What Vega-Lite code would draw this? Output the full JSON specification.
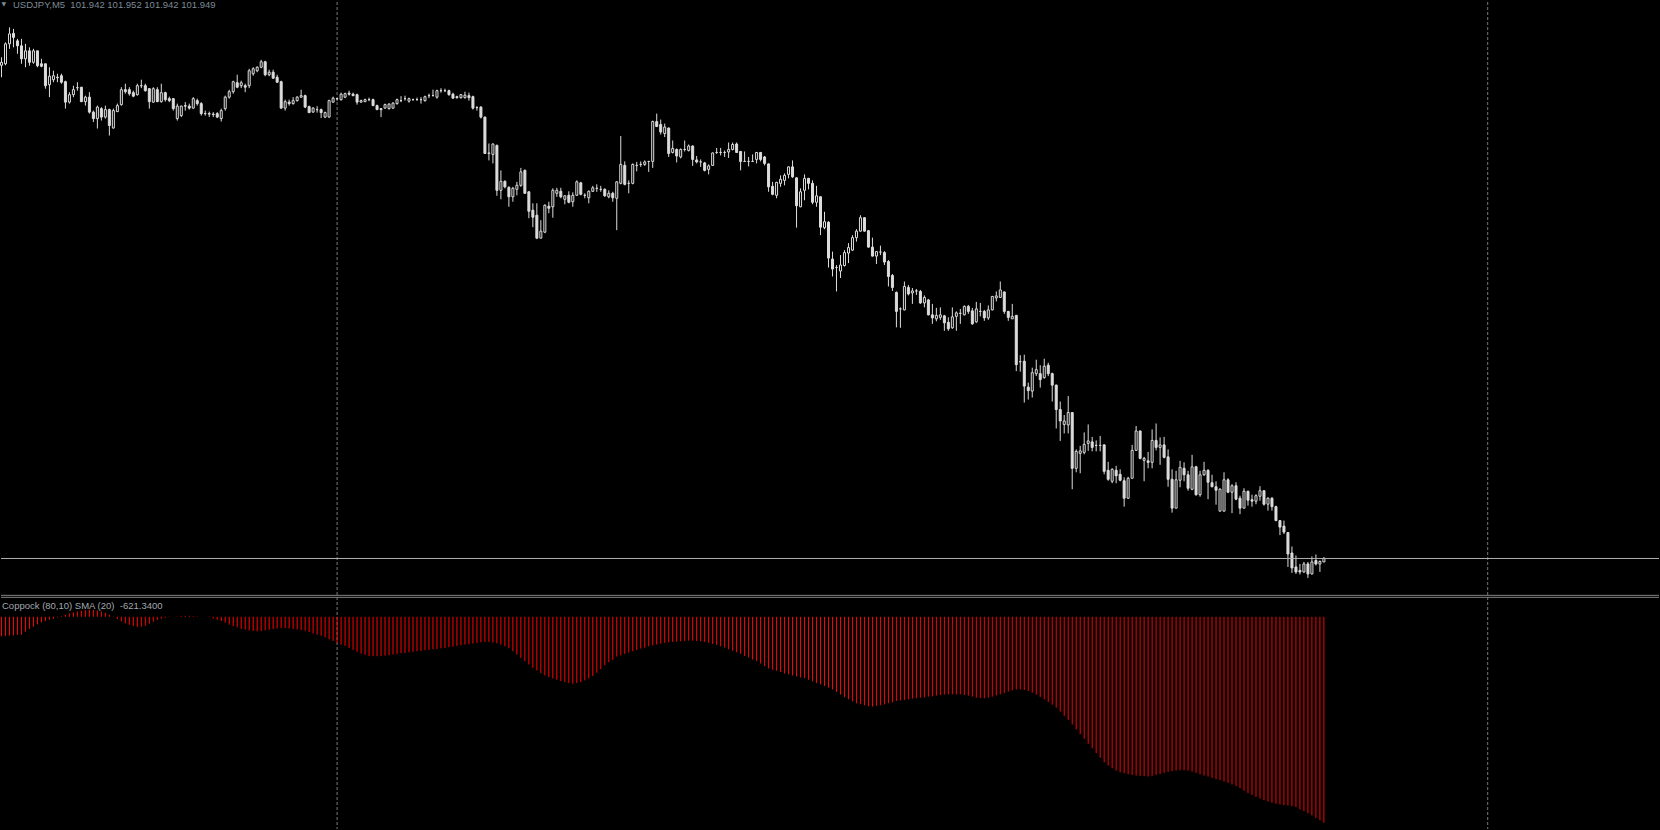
{
"$schema":"https://vega.github.io/schema/vega-lite/v6.json",
"width":1660,"height":830,
"autosize":{"type":"fit","contains":"padding"},
"padding":0,
"background":"#000000",
"config":{"view":{"stroke":null},"scale":{"continuousPadding":0}},
"datasets":{
"candles":[
{"i":0,"o":102.939,"h":102.955,"l":102.915,"c":102.945},
{"i":1,"o":102.942,"h":102.985,"l":102.939,"c":102.982},
{"i":2,"o":102.982,"h":103.015,"l":102.972,"c":103.002},
{"i":3,"o":103.003,"h":103.012,"l":102.975,"c":102.995},
{"i":4,"o":102.988,"h":102.992,"l":102.962,"c":102.978},
{"i":5,"o":102.978,"h":102.992,"l":102.942,"c":102.952},
{"i":6,"o":102.952,"h":102.982,"l":102.935,"c":102.968},
{"i":7,"o":102.968,"h":102.975,"l":102.938,"c":102.945},
{"i":8,"o":102.945,"h":102.972,"l":102.942,"c":102.968},
{"i":9,"o":102.968,"h":102.968,"l":102.935,"c":102.938},
{"i":10,"o":102.942,"h":102.952,"l":102.935,"c":102.937},
{"i":11,"o":102.942,"h":102.942,"l":102.892,"c":102.898},
{"i":12,"o":102.900,"h":102.935,"l":102.875,"c":102.917},
{"i":13,"o":102.910,"h":102.928,"l":102.905,"c":102.918},
{"i":14,"o":102.915,"h":102.922,"l":102.905,"c":102.914},
{"i":15,"o":102.918,"h":102.922,"l":102.902,"c":102.905},
{"i":16,"o":102.906,"h":102.908,"l":102.852,"c":102.865},
{"i":17,"o":102.865,"h":102.885,"l":102.862,"c":102.880},
{"i":18,"o":102.880,"h":102.898,"l":102.875,"c":102.890},
{"i":19,"o":102.894,"h":102.905,"l":102.888,"c":102.894},
{"i":20,"o":102.895,"h":102.895,"l":102.865,"c":102.866},
{"i":21,"o":102.866,"h":102.878,"l":102.858,"c":102.875},
{"i":22,"o":102.875,"h":102.885,"l":102.842,"c":102.845},
{"i":23,"o":102.845,"h":102.848,"l":102.825,"c":102.832},
{"i":24,"o":102.832,"h":102.858,"l":102.812,"c":102.855},
{"i":25,"o":102.852,"h":102.855,"l":102.828,"c":102.835},
{"i":26,"o":102.835,"h":102.858,"l":102.832,"c":102.850},
{"i":27,"o":102.850,"h":102.852,"l":102.798,"c":102.818},
{"i":28,"o":102.813,"h":102.852,"l":102.812,"c":102.848},
{"i":29,"o":102.846,"h":102.862,"l":102.845,"c":102.858},
{"i":30,"o":102.860,"h":102.895,"l":102.858,"c":102.890},
{"i":31,"o":102.890,"h":102.902,"l":102.882,"c":102.886},
{"i":32,"o":102.890,"h":102.895,"l":102.878,"c":102.882},
{"i":33,"o":102.884,"h":102.888,"l":102.875,"c":102.877},
{"i":34,"o":102.880,"h":102.902,"l":102.878,"c":102.898},
{"i":35,"o":102.898,"h":102.910,"l":102.893,"c":102.898},
{"i":36,"o":102.898,"h":102.902,"l":102.886,"c":102.888},
{"i":37,"o":102.892,"h":102.893,"l":102.852,"c":102.866},
{"i":38,"o":102.865,"h":102.895,"l":102.864,"c":102.892},
{"i":39,"o":102.890,"h":102.895,"l":102.865,"c":102.866},
{"i":40,"o":102.866,"h":102.902,"l":102.864,"c":102.884},
{"i":41,"o":102.884,"h":102.886,"l":102.866,"c":102.870},
{"i":42,"o":102.872,"h":102.876,"l":102.865,"c":102.868},
{"i":43,"o":102.872,"h":102.873,"l":102.848,"c":102.852},
{"i":44,"o":102.832,"h":102.862,"l":102.828,"c":102.857},
{"i":45,"o":102.838,"h":102.858,"l":102.835,"c":102.857},
{"i":46,"o":102.858,"h":102.865,"l":102.848,"c":102.857},
{"i":47,"o":102.857,"h":102.862,"l":102.850,"c":102.853},
{"i":48,"o":102.853,"h":102.875,"l":102.852,"c":102.872},
{"i":49,"o":102.868,"h":102.872,"l":102.858,"c":102.862},
{"i":50,"o":102.862,"h":102.865,"l":102.838,"c":102.842},
{"i":51,"o":102.842,"h":102.848,"l":102.838,"c":102.842},
{"i":52,"o":102.842,"h":102.846,"l":102.835,"c":102.841},
{"i":53,"o":102.841,"h":102.845,"l":102.835,"c":102.840},
{"i":54,"o":102.842,"h":102.845,"l":102.833,"c":102.835},
{"i":55,"o":102.832,"h":102.852,"l":102.826,"c":102.848},
{"i":56,"o":102.852,"h":102.878,"l":102.848,"c":102.875},
{"i":57,"o":102.875,"h":102.890,"l":102.872,"c":102.886},
{"i":58,"o":102.886,"h":102.908,"l":102.882,"c":102.906},
{"i":59,"o":102.904,"h":102.920,"l":102.893,"c":102.895},
{"i":60,"o":102.898,"h":102.908,"l":102.893,"c":102.904},
{"i":61,"o":102.898,"h":102.902,"l":102.885,"c":102.895},
{"i":62,"o":102.898,"h":102.932,"l":102.893,"c":102.928},
{"i":63,"o":102.922,"h":102.935,"l":102.918,"c":102.932},
{"i":64,"o":102.928,"h":102.937,"l":102.925,"c":102.935},
{"i":65,"o":102.935,"h":102.950,"l":102.933,"c":102.946},
{"i":66,"o":102.946,"h":102.948,"l":102.917,"c":102.920},
{"i":67,"o":102.920,"h":102.930,"l":102.917,"c":102.925},
{"i":68,"o":102.925,"h":102.930,"l":102.912,"c":102.913},
{"i":69,"o":102.915,"h":102.920,"l":102.904,"c":102.905},
{"i":70,"o":102.906,"h":102.908,"l":102.852,"c":102.853},
{"i":71,"o":102.853,"h":102.870,"l":102.848,"c":102.866},
{"i":72,"o":102.865,"h":102.870,"l":102.858,"c":102.862},
{"i":73,"o":102.862,"h":102.875,"l":102.860,"c":102.868},
{"i":74,"o":102.868,"h":102.877,"l":102.866,"c":102.875},
{"i":75,"o":102.875,"h":102.890,"l":102.874,"c":102.878},
{"i":76,"o":102.878,"h":102.880,"l":102.853,"c":102.855},
{"i":77,"o":102.856,"h":102.858,"l":102.843,"c":102.844},
{"i":78,"o":102.845,"h":102.855,"l":102.844,"c":102.853},
{"i":79,"o":102.850,"h":102.857,"l":102.844,"c":102.850},
{"i":80,"o":102.850,"h":102.852,"l":102.833,"c":102.844},
{"i":81,"o":102.835,"h":102.846,"l":102.833,"c":102.844},
{"i":82,"o":102.835,"h":102.870,"l":102.834,"c":102.868},
{"i":83,"o":102.865,"h":102.876,"l":102.864,"c":102.873},
{"i":84,"o":102.872,"h":102.873,"l":102.868,"c":102.872},
{"i":85,"o":102.870,"h":102.884,"l":102.868,"c":102.881},
{"i":86,"o":102.875,"h":102.884,"l":102.873,"c":102.882},
{"i":87,"o":102.883,"h":102.888,"l":102.878,"c":102.881},
{"i":88,"o":102.881,"h":102.884,"l":102.877,"c":102.878},
{"i":89,"o":102.880,"h":102.882,"l":102.860,"c":102.865},
{"i":90,"o":102.865,"h":102.870,"l":102.864,"c":102.868},
{"i":91,"o":102.866,"h":102.872,"l":102.865,"c":102.870},
{"i":92,"o":102.870,"h":102.874,"l":102.867,"c":102.870},
{"i":93,"o":102.870,"h":102.872,"l":102.857,"c":102.858},
{"i":94,"o":102.858,"h":102.860,"l":102.849,"c":102.850},
{"i":95,"o":102.852,"h":102.853,"l":102.835,"c":102.850},
{"i":96,"o":102.853,"h":102.862,"l":102.852,"c":102.860},
{"i":97,"o":102.852,"h":102.863,"l":102.850,"c":102.861},
{"i":98,"o":102.853,"h":102.865,"l":102.852,"c":102.863},
{"i":99,"o":102.862,"h":102.872,"l":102.860,"c":102.870},
{"i":100,"o":102.868,"h":102.877,"l":102.865,"c":102.868},
{"i":101,"o":102.872,"h":102.878,"l":102.868,"c":102.872},
{"i":102,"o":102.867,"h":102.874,"l":102.864,"c":102.872},
{"i":103,"o":102.870,"h":102.872,"l":102.868,"c":102.870},
{"i":104,"o":102.870,"h":102.874,"l":102.868,"c":102.870},
{"i":105,"o":102.870,"h":102.875,"l":102.862,"c":102.870},
{"i":106,"o":102.868,"h":102.878,"l":102.866,"c":102.876},
{"i":107,"o":102.878,"h":102.882,"l":102.873,"c":102.878},
{"i":108,"o":102.878,"h":102.890,"l":102.877,"c":102.878},
{"i":109,"o":102.875,"h":102.890,"l":102.872,"c":102.888},
{"i":110,"o":102.888,"h":102.893,"l":102.884,"c":102.888},
{"i":111,"o":102.888,"h":102.892,"l":102.885,"c":102.888},
{"i":112,"o":102.888,"h":102.890,"l":102.878,"c":102.880},
{"i":113,"o":102.881,"h":102.884,"l":102.872,"c":102.873},
{"i":114,"o":102.876,"h":102.878,"l":102.872,"c":102.874},
{"i":115,"o":102.874,"h":102.881,"l":102.872,"c":102.880},
{"i":116,"o":102.874,"h":102.886,"l":102.872,"c":102.879},
{"i":117,"o":102.878,"h":102.884,"l":102.868,"c":102.874},
{"i":118,"o":102.876,"h":102.878,"l":102.850,"c":102.853},
{"i":119,"o":102.854,"h":102.857,"l":102.848,"c":102.854},
{"i":120,"o":102.855,"h":102.857,"l":102.832,"c":102.835},
{"i":121,"o":102.835,"h":102.836,"l":102.761,"c":102.762},
{"i":122,"o":102.762,"h":102.782,"l":102.748,"c":102.763},
{"i":123,"o":102.760,"h":102.782,"l":102.742,"c":102.781},
{"i":124,"o":102.778,"h":102.780,"l":102.677,"c":102.688},
{"i":125,"o":102.688,"h":102.728,"l":102.670,"c":102.706},
{"i":126,"o":102.706,"h":102.708,"l":102.692,"c":102.695},
{"i":127,"o":102.694,"h":102.696,"l":102.655,"c":102.675},
{"i":128,"o":102.675,"h":102.695,"l":102.665,"c":102.692},
{"i":129,"o":102.690,"h":102.705,"l":102.678,"c":102.698},
{"i":130,"o":102.698,"h":102.733,"l":102.695,"c":102.725},
{"i":131,"o":102.728,"h":102.730,"l":102.681,"c":102.682},
{"i":132,"o":102.685,"h":102.686,"l":102.632,"c":102.646},
{"i":133,"o":102.648,"h":102.662,"l":102.614,"c":102.634},
{"i":134,"o":102.638,"h":102.662,"l":102.590,"c":102.592},
{"i":135,"o":102.592,"h":102.628,"l":102.592,"c":102.606},
{"i":136,"o":102.604,"h":102.660,"l":102.602,"c":102.658},
{"i":137,"o":102.656,"h":102.665,"l":102.642,"c":102.652},
{"i":138,"o":102.655,"h":102.692,"l":102.633,"c":102.688},
{"i":139,"o":102.682,"h":102.693,"l":102.675,"c":102.688},
{"i":140,"o":102.686,"h":102.693,"l":102.672,"c":102.675},
{"i":141,"o":102.670,"h":102.678,"l":102.660,"c":102.677},
{"i":142,"o":102.678,"h":102.686,"l":102.662,"c":102.664},
{"i":143,"o":102.665,"h":102.684,"l":102.655,"c":102.678},
{"i":144,"o":102.678,"h":102.708,"l":102.677,"c":102.705},
{"i":145,"o":102.703,"h":102.705,"l":102.678,"c":102.680},
{"i":146,"o":102.678,"h":102.682,"l":102.672,"c":102.678},
{"i":147,"o":102.673,"h":102.688,"l":102.662,"c":102.686},
{"i":148,"o":102.686,"h":102.697,"l":102.685,"c":102.693},
{"i":149,"o":102.692,"h":102.700,"l":102.685,"c":102.692},
{"i":150,"o":102.690,"h":102.697,"l":102.685,"c":102.690},
{"i":151,"o":102.690,"h":102.692,"l":102.675,"c":102.677},
{"i":152,"o":102.675,"h":102.688,"l":102.672,"c":102.682},
{"i":153,"o":102.682,"h":102.685,"l":102.665,"c":102.673},
{"i":154,"o":102.672,"h":102.706,"l":102.608,"c":102.705},
{"i":155,"o":102.702,"h":102.797,"l":102.700,"c":102.740},
{"i":156,"o":102.738,"h":102.746,"l":102.698,"c":102.700},
{"i":157,"o":102.702,"h":102.708,"l":102.682,"c":102.702},
{"i":158,"o":102.702,"h":102.742,"l":102.700,"c":102.740},
{"i":159,"o":102.738,"h":102.745,"l":102.726,"c":102.738},
{"i":160,"o":102.740,"h":102.746,"l":102.735,"c":102.740},
{"i":161,"o":102.740,"h":102.748,"l":102.737,"c":102.745},
{"i":162,"o":102.746,"h":102.747,"l":102.725,"c":102.746},
{"i":163,"o":102.746,"h":102.828,"l":102.733,"c":102.826},
{"i":164,"o":102.826,"h":102.842,"l":102.815,"c":102.816},
{"i":165,"o":102.820,"h":102.830,"l":102.800,"c":102.805},
{"i":166,"o":102.802,"h":102.822,"l":102.795,"c":102.815},
{"i":167,"o":102.813,"h":102.814,"l":102.755,"c":102.762},
{"i":168,"o":102.764,"h":102.788,"l":102.762,"c":102.772},
{"i":169,"o":102.770,"h":102.772,"l":102.744,"c":102.757},
{"i":170,"o":102.755,"h":102.772,"l":102.752,"c":102.770},
{"i":171,"o":102.770,"h":102.788,"l":102.766,"c":102.770},
{"i":172,"o":102.768,"h":102.780,"l":102.766,"c":102.777},
{"i":173,"o":102.777,"h":102.778,"l":102.737,"c":102.750},
{"i":174,"o":102.749,"h":102.757,"l":102.742,"c":102.745},
{"i":175,"o":102.745,"h":102.750,"l":102.735,"c":102.745},
{"i":176,"o":102.743,"h":102.745,"l":102.726,"c":102.728},
{"i":177,"o":102.730,"h":102.740,"l":102.720,"c":102.737},
{"i":178,"o":102.738,"h":102.764,"l":102.737,"c":102.763},
{"i":179,"o":102.764,"h":102.773,"l":102.761,"c":102.764},
{"i":180,"o":102.764,"h":102.773,"l":102.758,"c":102.764},
{"i":181,"o":102.764,"h":102.768,"l":102.755,"c":102.764},
{"i":182,"o":102.765,"h":102.784,"l":102.753,"c":102.770},
{"i":183,"o":102.770,"h":102.784,"l":102.768,"c":102.780},
{"i":184,"o":102.781,"h":102.784,"l":102.763,"c":102.764},
{"i":185,"o":102.766,"h":102.767,"l":102.728,"c":102.746},
{"i":186,"o":102.746,"h":102.766,"l":102.745,"c":102.746},
{"i":187,"o":102.746,"h":102.755,"l":102.736,"c":102.746},
{"i":188,"o":102.746,"h":102.760,"l":102.745,"c":102.746},
{"i":189,"o":102.750,"h":102.765,"l":102.742,"c":102.764},
{"i":190,"o":102.764,"h":102.765,"l":102.746,"c":102.750},
{"i":191,"o":102.755,"h":102.757,"l":102.738,"c":102.742},
{"i":192,"o":102.741,"h":102.742,"l":102.685,"c":102.695},
{"i":193,"o":102.696,"h":102.705,"l":102.678,"c":102.680},
{"i":194,"o":102.678,"h":102.705,"l":102.672,"c":102.704},
{"i":195,"o":102.702,"h":102.718,"l":102.695,"c":102.710},
{"i":196,"o":102.708,"h":102.722,"l":102.698,"c":102.718},
{"i":197,"o":102.720,"h":102.736,"l":102.712,"c":102.735},
{"i":198,"o":102.735,"h":102.748,"l":102.713,"c":102.715},
{"i":199,"o":102.713,"h":102.714,"l":102.613,"c":102.657},
{"i":200,"o":102.655,"h":102.692,"l":102.654,"c":102.685},
{"i":201,"o":102.688,"h":102.720,"l":102.668,"c":102.712},
{"i":202,"o":102.712,"h":102.713,"l":102.690,"c":102.702},
{"i":203,"o":102.702,"h":102.708,"l":102.660,"c":102.664},
{"i":204,"o":102.664,"h":102.697,"l":102.655,"c":102.677},
{"i":205,"o":102.675,"h":102.676,"l":102.598,"c":102.614},
{"i":206,"o":102.613,"h":102.645,"l":102.610,"c":102.625},
{"i":207,"o":102.624,"h":102.626,"l":102.533,"c":102.552},
{"i":208,"o":102.550,"h":102.565,"l":102.515,"c":102.530},
{"i":209,"o":102.533,"h":102.538,"l":102.485,"c":102.533},
{"i":210,"o":102.526,"h":102.558,"l":102.512,"c":102.538},
{"i":211,"o":102.537,"h":102.568,"l":102.535,"c":102.563},
{"i":212,"o":102.562,"h":102.582,"l":102.542,"c":102.573},
{"i":213,"o":102.568,"h":102.598,"l":102.566,"c":102.593},
{"i":214,"o":102.593,"h":102.610,"l":102.585,"c":102.606},
{"i":215,"o":102.606,"h":102.638,"l":102.605,"c":102.633},
{"i":216,"o":102.633,"h":102.634,"l":102.605,"c":102.606},
{"i":217,"o":102.607,"h":102.608,"l":102.573,"c":102.574},
{"i":218,"o":102.574,"h":102.593,"l":102.555,"c":102.556},
{"i":219,"o":102.556,"h":102.566,"l":102.540,"c":102.565},
{"i":220,"o":102.564,"h":102.577,"l":102.558,"c":102.564},
{"i":221,"o":102.563,"h":102.566,"l":102.538,"c":102.544},
{"i":222,"o":102.545,"h":102.548,"l":102.495,"c":102.515},
{"i":223,"o":102.517,"h":102.520,"l":102.486,"c":102.493},
{"i":224,"o":102.483,"h":102.485,"l":102.413,"c":102.445},
{"i":225,"o":102.450,"h":102.453,"l":102.412,"c":102.450},
{"i":226,"o":102.448,"h":102.505,"l":102.447,"c":102.495},
{"i":227,"o":102.493,"h":102.498,"l":102.477,"c":102.480},
{"i":228,"o":102.482,"h":102.492,"l":102.460,"c":102.486},
{"i":229,"o":102.486,"h":102.490,"l":102.478,"c":102.486},
{"i":230,"o":102.485,"h":102.488,"l":102.460,"c":102.462},
{"i":231,"o":102.462,"h":102.477,"l":102.453,"c":102.473},
{"i":232,"o":102.468,"h":102.470,"l":102.437,"c":102.438},
{"i":233,"o":102.438,"h":102.460,"l":102.420,"c":102.432},
{"i":234,"o":102.430,"h":102.452,"l":102.425,"c":102.437},
{"i":235,"o":102.433,"h":102.453,"l":102.428,"c":102.438},
{"i":236,"o":102.436,"h":102.438,"l":102.406,"c":102.422},
{"i":237,"o":102.423,"h":102.433,"l":102.406,"c":102.410},
{"i":238,"o":102.412,"h":102.453,"l":102.410,"c":102.434},
{"i":239,"o":102.435,"h":102.445,"l":102.406,"c":102.442},
{"i":240,"o":102.441,"h":102.450,"l":102.420,"c":102.441},
{"i":241,"o":102.438,"h":102.457,"l":102.437,"c":102.455},
{"i":242,"o":102.455,"h":102.458,"l":102.440,"c":102.445},
{"i":243,"o":102.446,"h":102.452,"l":102.418,"c":102.420},
{"i":244,"o":102.424,"h":102.464,"l":102.422,"c":102.450},
{"i":245,"o":102.445,"h":102.462,"l":102.435,"c":102.445},
{"i":246,"o":102.445,"h":102.448,"l":102.426,"c":102.432},
{"i":247,"o":102.432,"h":102.457,"l":102.428,"c":102.448},
{"i":248,"o":102.448,"h":102.476,"l":102.447,"c":102.475},
{"i":249,"o":102.472,"h":102.485,"l":102.465,"c":102.476},
{"i":250,"o":102.473,"h":102.505,"l":102.472,"c":102.488},
{"i":251,"o":102.484,"h":102.485,"l":102.440,"c":102.445},
{"i":252,"o":102.445,"h":102.446,"l":102.426,"c":102.433},
{"i":253,"o":102.430,"h":102.460,"l":102.430,"c":102.435},
{"i":254,"o":102.437,"h":102.438,"l":102.325,"c":102.338},
{"i":255,"o":102.344,"h":102.357,"l":102.324,"c":102.344},
{"i":256,"o":102.345,"h":102.358,"l":102.262,"c":102.295},
{"i":257,"o":102.293,"h":102.302,"l":102.268,"c":102.286},
{"i":258,"o":102.285,"h":102.332,"l":102.272,"c":102.322},
{"i":259,"o":102.320,"h":102.348,"l":102.315,"c":102.328},
{"i":260,"o":102.320,"h":102.337,"l":102.292,"c":102.308},
{"i":261,"o":102.312,"h":102.350,"l":102.310,"c":102.335},
{"i":262,"o":102.337,"h":102.342,"l":102.315,"c":102.320},
{"i":263,"o":102.320,"h":102.322,"l":102.264,"c":102.297},
{"i":264,"o":102.297,"h":102.298,"l":102.210,"c":102.248},
{"i":265,"o":102.248,"h":102.264,"l":102.185,"c":102.225},
{"i":266,"o":102.218,"h":102.237,"l":102.200,"c":102.225},
{"i":267,"o":102.217,"h":102.275,"l":102.200,"c":102.242},
{"i":268,"o":102.242,"h":102.243,"l":102.088,"c":102.130},
{"i":269,"o":102.130,"h":102.168,"l":102.122,"c":102.164},
{"i":270,"o":102.160,"h":102.175,"l":102.120,"c":102.165},
{"i":271,"o":102.162,"h":102.202,"l":102.158,"c":102.178},
{"i":272,"o":102.180,"h":102.218,"l":102.165,"c":102.185},
{"i":273,"o":102.183,"h":102.193,"l":102.164,"c":102.172},
{"i":274,"o":102.176,"h":102.186,"l":102.164,"c":102.176},
{"i":275,"o":102.176,"h":102.195,"l":102.164,"c":102.176},
{"i":276,"o":102.177,"h":102.178,"l":102.118,"c":102.124},
{"i":277,"o":102.126,"h":102.143,"l":102.105,"c":102.108},
{"i":278,"o":102.104,"h":102.130,"l":102.100,"c":102.128},
{"i":279,"o":102.126,"h":102.135,"l":102.100,"c":102.115},
{"i":280,"o":102.118,"h":102.128,"l":102.104,"c":102.106},
{"i":281,"o":102.105,"h":102.112,"l":102.053,"c":102.070},
{"i":282,"o":102.070,"h":102.113,"l":102.069,"c":102.110},
{"i":283,"o":102.110,"h":102.177,"l":102.110,"c":102.166},
{"i":284,"o":102.166,"h":102.215,"l":102.165,"c":102.205},
{"i":285,"o":102.205,"h":102.205,"l":102.148,"c":102.150},
{"i":286,"o":102.146,"h":102.153,"l":102.104,"c":102.150},
{"i":287,"o":102.145,"h":102.163,"l":102.130,"c":102.142},
{"i":288,"o":102.142,"h":102.208,"l":102.130,"c":102.186},
{"i":289,"o":102.186,"h":102.220,"l":102.166,"c":102.172},
{"i":290,"o":102.172,"h":102.192,"l":102.137,"c":102.177},
{"i":291,"o":102.177,"h":102.193,"l":102.150,"c":102.152},
{"i":292,"o":102.153,"h":102.168,"l":102.093,"c":102.108},
{"i":293,"o":102.108,"h":102.128,"l":102.041,"c":102.050},
{"i":294,"o":102.050,"h":102.125,"l":102.050,"c":102.107},
{"i":295,"o":102.106,"h":102.145,"l":102.092,"c":102.132},
{"i":296,"o":102.130,"h":102.142,"l":102.104,"c":102.117},
{"i":297,"o":102.117,"h":102.125,"l":102.085,"c":102.090},
{"i":298,"o":102.088,"h":102.157,"l":102.086,"c":102.133},
{"i":299,"o":102.133,"h":102.135,"l":102.075,"c":102.077},
{"i":300,"o":102.077,"h":102.125,"l":102.073,"c":102.117},
{"i":301,"o":102.117,"h":102.143,"l":102.115,"c":102.126},
{"i":302,"o":102.126,"h":102.128,"l":102.068,"c":102.102},
{"i":303,"o":102.101,"h":102.117,"l":102.092,"c":102.093},
{"i":304,"o":102.093,"h":102.104,"l":102.057,"c":102.086},
{"i":305,"o":102.044,"h":102.090,"l":102.044,"c":102.088},
{"i":306,"o":102.044,"h":102.122,"l":102.044,"c":102.107},
{"i":307,"o":102.107,"h":102.110,"l":102.080,"c":102.082},
{"i":308,"o":102.082,"h":102.098,"l":102.040,"c":102.095},
{"i":309,"o":102.095,"h":102.102,"l":102.066,"c":102.068},
{"i":310,"o":102.070,"h":102.075,"l":102.038,"c":102.050},
{"i":311,"o":102.050,"h":102.090,"l":102.050,"c":102.084},
{"i":312,"o":102.084,"h":102.085,"l":102.055,"c":102.066},
{"i":313,"o":102.067,"h":102.077,"l":102.053,"c":102.064},
{"i":314,"o":102.064,"h":102.078,"l":102.058,"c":102.075},
{"i":315,"o":102.074,"h":102.094,"l":102.065,"c":102.085},
{"i":316,"o":102.085,"h":102.086,"l":102.055,"c":102.058},
{"i":317,"o":102.058,"h":102.072,"l":102.045,"c":102.070},
{"i":318,"o":102.070,"h":102.072,"l":102.045,"c":102.053},
{"i":319,"o":102.053,"h":102.055,"l":102.024,"c":102.025},
{"i":320,"o":102.025,"h":102.026,"l":101.996,"c":102.012},
{"i":321,"o":102.014,"h":102.025,"l":101.998,"c":102.002},
{"i":322,"o":102.001,"h":102.002,"l":101.932,"c":101.958},
{"i":323,"o":101.960,"h":101.973,"l":101.920,"c":101.930},
{"i":324,"o":101.932,"h":101.955,"l":101.918,"c":101.922},
{"i":325,"o":101.925,"h":101.938,"l":101.917,"c":101.922},
{"i":326,"o":101.922,"h":101.942,"l":101.920,"c":101.938},
{"i":327,"o":101.938,"h":101.942,"l":101.910,"c":101.918},
{"i":328,"o":101.918,"h":101.953,"l":101.917,"c":101.942},
{"i":329,"o":101.945,"h":101.957,"l":101.935,"c":101.938},
{"i":330,"o":101.938,"h":101.945,"l":101.922,"c":101.943},
{"i":331,"o":101.942,"h":101.952,"l":101.942,"c":101.949}
],
"coppock":[
{"i":0,"v":-59},{"i":1,"v":-58},{"i":2,"v":-57},{"i":3,"v":-56},{"i":4,"v":-55},{"i":5,"v":-54},{"i":6,"v":-45},{"i":7,"v":-37},{"i":8,"v":-30},{"i":9,"v":-23},
{"i":10,"v":-17},{"i":11,"v":-13},{"i":12,"v":-9},{"i":13,"v":-6},{"i":14,"v":-2},{"i":15,"v":2},{"i":16,"v":6},{"i":17,"v":10},{"i":18,"v":13},{"i":19,"v":16},
{"i":20,"v":18},{"i":21,"v":20},{"i":22,"v":21},{"i":23,"v":21},{"i":24,"v":19},{"i":25,"v":16},{"i":26,"v":12},{"i":27,"v":6},{"i":28,"v":-1},{"i":29,"v":-7},
{"i":30,"v":-14},{"i":31,"v":-20},{"i":32,"v":-24},{"i":33,"v":-28},{"i":34,"v":-31},{"i":35,"v":-30},{"i":36,"v":-27},{"i":37,"v":-21},{"i":38,"v":-15},{"i":39,"v":-10},
{"i":40,"v":-6},{"i":41,"v":-3},{"i":42,"v":-1},{"i":43,"v":0},{"i":44,"v":1},{"i":45,"v":2},{"i":46,"v":3},{"i":47,"v":3},{"i":48,"v":2},{"i":49,"v":1},
{"i":50,"v":0},{"i":51,"v":0},{"i":52,"v":-1},{"i":53,"v":-5},{"i":54,"v":-9},{"i":55,"v":-13},{"i":56,"v":-18},{"i":57,"v":-24},{"i":58,"v":-28},{"i":59,"v":-32},
{"i":60,"v":-36},{"i":61,"v":-39},{"i":62,"v":-41},{"i":63,"v":-43},{"i":64,"v":-44},{"i":65,"v":-43},{"i":66,"v":-41},{"i":67,"v":-39},{"i":68,"v":-37},{"i":69,"v":-35},
{"i":70,"v":-34},{"i":71,"v":-34},{"i":72,"v":-35},{"i":73,"v":-37},{"i":74,"v":-38},{"i":75,"v":-40},{"i":76,"v":-42},{"i":77,"v":-46},{"i":78,"v":-50},{"i":79,"v":-54},
{"i":80,"v":-57},{"i":81,"v":-62},{"i":82,"v":-68},{"i":83,"v":-73},{"i":84,"v":-79},{"i":85,"v":-84},{"i":86,"v":-88},{"i":87,"v":-94},{"i":88,"v":-100},{"i":89,"v":-106},
{"i":90,"v":-111},{"i":91,"v":-115},{"i":92,"v":-118},{"i":93,"v":-119},{"i":94,"v":-119},{"i":95,"v":-118},{"i":96,"v":-117},{"i":97,"v":-116},{"i":98,"v":-114},{"i":99,"v":-112},
{"i":100,"v":-110},{"i":101,"v":-109},{"i":102,"v":-107},{"i":103,"v":-106},{"i":104,"v":-104},{"i":105,"v":-103},{"i":106,"v":-101},{"i":107,"v":-100},{"i":108,"v":-98},{"i":109,"v":-97},
{"i":110,"v":-95},{"i":111,"v":-94},{"i":112,"v":-92},{"i":113,"v":-90},{"i":114,"v":-88},{"i":115,"v":-86},{"i":116,"v":-84},{"i":117,"v":-83},{"i":118,"v":-81},{"i":119,"v":-79},
{"i":120,"v":-77},{"i":121,"v":-76},{"i":122,"v":-76},{"i":123,"v":-78},{"i":124,"v":-80},{"i":125,"v":-84},{"i":126,"v":-89},{"i":127,"v":-95},{"i":128,"v":-104},{"i":129,"v":-114},
{"i":130,"v":-124},{"i":131,"v":-134},{"i":132,"v":-144},{"i":133,"v":-154},{"i":134,"v":-162},{"i":135,"v":-170},{"i":136,"v":-177},{"i":137,"v":-182},{"i":138,"v":-186},{"i":139,"v":-190},
{"i":140,"v":-194},{"i":141,"v":-197},{"i":142,"v":-200},{"i":143,"v":-202},{"i":144,"v":-200},{"i":145,"v":-197},{"i":146,"v":-192},{"i":147,"v":-186},{"i":148,"v":-179},{"i":149,"v":-169},
{"i":150,"v":-158},{"i":151,"v":-146},{"i":152,"v":-137},{"i":153,"v":-130},{"i":154,"v":-120},{"i":155,"v":-116},{"i":156,"v":-112},{"i":157,"v":-108},{"i":158,"v":-104},{"i":159,"v":-100},
{"i":160,"v":-96},{"i":161,"v":-93},{"i":162,"v":-89},{"i":163,"v":-86},{"i":164,"v":-84},{"i":165,"v":-81},{"i":166,"v":-79},{"i":167,"v":-77},{"i":168,"v":-76},{"i":169,"v":-75},
{"i":170,"v":-74},{"i":171,"v":-73},{"i":172,"v":-72},{"i":173,"v":-72},{"i":174,"v":-73},{"i":175,"v":-74},{"i":176,"v":-76},{"i":177,"v":-79},{"i":178,"v":-82},{"i":179,"v":-85},
{"i":180,"v":-89},{"i":181,"v":-93},{"i":182,"v":-98},{"i":183,"v":-103},{"i":184,"v":-107},{"i":185,"v":-112},{"i":186,"v":-118},{"i":187,"v":-123},{"i":188,"v":-129},{"i":189,"v":-134},
{"i":190,"v":-141},{"i":191,"v":-149},{"i":192,"v":-156},{"i":193,"v":-160},{"i":194,"v":-163},{"i":195,"v":-167},{"i":196,"v":-171},{"i":197,"v":-174},{"i":198,"v":-177},{"i":199,"v":-180},
{"i":200,"v":-183},{"i":201,"v":-185},{"i":202,"v":-190},{"i":203,"v":-195},{"i":204,"v":-200},{"i":205,"v":-204},{"i":206,"v":-209},{"i":207,"v":-214},{"i":208,"v":-219},{"i":209,"v":-227},
{"i":210,"v":-235},{"i":211,"v":-243},{"i":212,"v":-249},{"i":213,"v":-255},{"i":214,"v":-261},{"i":215,"v":-264},{"i":216,"v":-267},{"i":217,"v":-270},{"i":218,"v":-271},{"i":219,"v":-269},
{"i":220,"v":-267},{"i":221,"v":-264},{"i":222,"v":-261},{"i":223,"v":-258},{"i":224,"v":-254},{"i":225,"v":-252},{"i":226,"v":-251},{"i":227,"v":-249},{"i":228,"v":-247},{"i":229,"v":-246},
{"i":230,"v":-244},{"i":231,"v":-243},{"i":232,"v":-241},{"i":233,"v":-240},{"i":234,"v":-238},{"i":235,"v":-236},{"i":236,"v":-235},{"i":237,"v":-234},{"i":238,"v":-234},{"i":239,"v":-234},
{"i":240,"v":-234},{"i":241,"v":-236},{"i":242,"v":-238},{"i":243,"v":-241},{"i":244,"v":-244},{"i":245,"v":-245},{"i":246,"v":-246},{"i":247,"v":-244},{"i":248,"v":-241},{"i":249,"v":-237},
{"i":250,"v":-234},{"i":251,"v":-230},{"i":252,"v":-226},{"i":253,"v":-222},{"i":254,"v":-219},{"i":255,"v":-219},{"i":256,"v":-221},{"i":257,"v":-224},{"i":258,"v":-229},{"i":259,"v":-235},
{"i":260,"v":-242},{"i":261,"v":-249},{"i":262,"v":-257},{"i":263,"v":-265},{"i":264,"v":-274},{"i":265,"v":-286},{"i":266,"v":-299},{"i":267,"v":-311},{"i":268,"v":-325},{"i":269,"v":-340},
{"i":270,"v":-354},{"i":271,"v":-368},{"i":272,"v":-383},{"i":273,"v":-397},{"i":274,"v":-411},{"i":275,"v":-425},{"i":276,"v":-439},{"i":277,"v":-449},{"i":278,"v":-457},{"i":279,"v":-464},
{"i":280,"v":-469},{"i":281,"v":-472},{"i":282,"v":-475},{"i":283,"v":-477},{"i":284,"v":-479},{"i":285,"v":-480},{"i":286,"v":-481},{"i":287,"v":-482},{"i":288,"v":-480},{"i":289,"v":-477},
{"i":290,"v":-474},{"i":291,"v":-471},{"i":292,"v":-468},{"i":293,"v":-465},{"i":294,"v":-464},{"i":295,"v":-463},{"i":296,"v":-463},{"i":297,"v":-464},{"i":298,"v":-467},{"i":299,"v":-471},
{"i":300,"v":-475},{"i":301,"v":-479},{"i":302,"v":-482},{"i":303,"v":-486},{"i":304,"v":-490},{"i":305,"v":-493},{"i":306,"v":-497},{"i":307,"v":-501},{"i":308,"v":-506},{"i":309,"v":-511},
{"i":310,"v":-517},{"i":311,"v":-525},{"i":312,"v":-532},{"i":313,"v":-537.5},{"i":314,"v":-543.5},{"i":315,"v":-548.3},{"i":316,"v":-553.1},{"i":317,"v":-557.9},{"i":318,"v":-561.0},{"i":319,"v":-564.1},
{"i":320,"v":-566.1},{"i":321,"v":-568.2},{"i":322,"v":-569.2},{"i":323,"v":-571.1},{"i":324,"v":-574.1},{"i":325,"v":-581.0},{"i":326,"v":-586.1},{"i":327,"v":-593.0},{"i":328,"v":-599.1},{"i":329,"v":-607.1},
{"i":330,"v":-614.0},{"i":331,"v":-621.34}
],
"separators":[{"i":84},{"i":372}],
"one":[{}]
},
"resolve":{"scale":{"y":"independent"}},
"layer":[
{
"data":{"name":"separators"},
"mark":{"type":"rule","color":"#7a7a7a","strokeWidth":1,"strokeDash":[3,2]},
"encoding":{"x":{"field":"i","type":"quantitative","axis":null,"scale":{"domain":[-0.125,414.875],"nice":false,"zero":false,"padding":0}}}
},
{
"layer":[
{
"data":{"name":"candles"},
"mark":{"type":"rule","color":"#dcdcdc","strokeWidth":1},
"encoding":{
"x":{"field":"i","type":"quantitative","axis":null,"scale":{"domain":[-0.125,414.875],"nice":false,"zero":false,"padding":0}},
"y":{"field":"l","type":"quantitative","axis":null,"scale":{"domain":[101.406,103.066],"nice":false,"zero":false,"padding":0}},
"y2":{"field":"h"}
}
},
{
"data":{"name":"candles"},
"mark":{"type":"bar","width":2,"stroke":"#dcdcdc","strokeWidth":1},
"encoding":{
"x":{"field":"i","type":"quantitative","axis":null,"scale":{"domain":[-0.125,414.875],"nice":false,"zero":false,"padding":0}},
"y":{"field":"o","type":"quantitative","axis":null,"scale":{"domain":[101.406,103.066],"nice":false,"zero":false,"padding":0}},
"y2":{"field":"c"},
"fill":{"condition":{"test":"datum.c < datum.o","value":"#dcdcdc"},"value":"#000000"}
}
},
{
"data":{"name":"one"},
"mark":{"type":"rule","color":"#b0b0b0","strokeWidth":1},
"encoding":{"y":{"datum":101.949,"type":"quantitative","axis":null,"scale":{"domain":[101.406,103.066],"nice":false,"zero":false,"padding":0}}}
},
{
"data":{"name":"one"},
"mark":{"type":"rule","color":"#808080","strokeWidth":1},
"encoding":{"y":{"datum":101.875,"type":"quantitative","axis":null,"scale":{"domain":[101.406,103.066],"nice":false,"zero":false,"padding":0}}}
},
{
"data":{"name":"one"},
"mark":{"type":"rule","color":"#808080","strokeWidth":1},
"encoding":{"y":{"datum":101.871,"type":"quantitative","axis":null,"scale":{"domain":[101.406,103.066],"nice":false,"zero":false,"padding":0}}}
},
{
"data":{"name":"one"},
"mark":{"type":"text","text":"USDJPY,M5\u00a0\u00a0101.942 101.952 101.942 101.949","align":"left","baseline":"alphabetic","font":"Liberation Sans","fontSize":9.5,"color":"#7d8a96"},
"encoding":{
"x":{"datum":2.875,"type":"quantitative","axis":null,"scale":{"domain":[-0.125,414.875],"nice":false,"zero":false,"padding":0}},
"y":{"datum":103.053,"type":"quantitative","axis":null,"scale":{"domain":[101.406,103.066],"nice":false,"zero":false,"padding":0}}
}
},
{
"data":{"name":"one"},
"mark":{"type":"text","text":"▼","align":"center","baseline":"middle","font":"DejaVu Sans","fontSize":6,"color":"#7d8a96"},
"encoding":{
"x":{"datum":0.6,"type":"quantitative","axis":null,"scale":{"domain":[-0.125,414.875],"nice":false,"zero":false,"padding":0}},
"y":{"datum":103.061,"type":"quantitative","axis":null,"scale":{"domain":[101.406,103.066],"nice":false,"zero":false,"padding":0}}
}
}
]
},
{
"layer":[
{
"data":{"name":"coppock"},
"mark":{"type":"rule","color":"#ff0000","strokeWidth":1},
"encoding":{
"x":{"field":"i","type":"quantitative","axis":null,"scale":{"domain":[-0.125,414.875],"nice":false,"zero":false,"padding":0}},
"y":{"field":"v","type":"quantitative","axis":null,"scale":{"domain":[-640.3,1854.7],"nice":false,"zero":false,"padding":0}},
"y2":{"datum":0}
}
},
{
"data":{"name":"one"},
"mark":{"type":"text","text":"Coppock (80,10) SMA (20)\u00a0\u00a0-621.3400","align":"left","baseline":"alphabetic","font":"Liberation Sans","fontSize":9.5,"color":"#a0a8b0"},
"encoding":{
"x":{"datum":0.125,"type":"quantitative","axis":null,"scale":{"domain":[-0.125,414.875],"nice":false,"zero":false,"padding":0}},
"y":{"datum":22.5,"type":"quantitative","axis":null,"scale":{"domain":[-640.3,1854.7],"nice":false,"zero":false,"padding":0}}
}
}
]
}
]
}
